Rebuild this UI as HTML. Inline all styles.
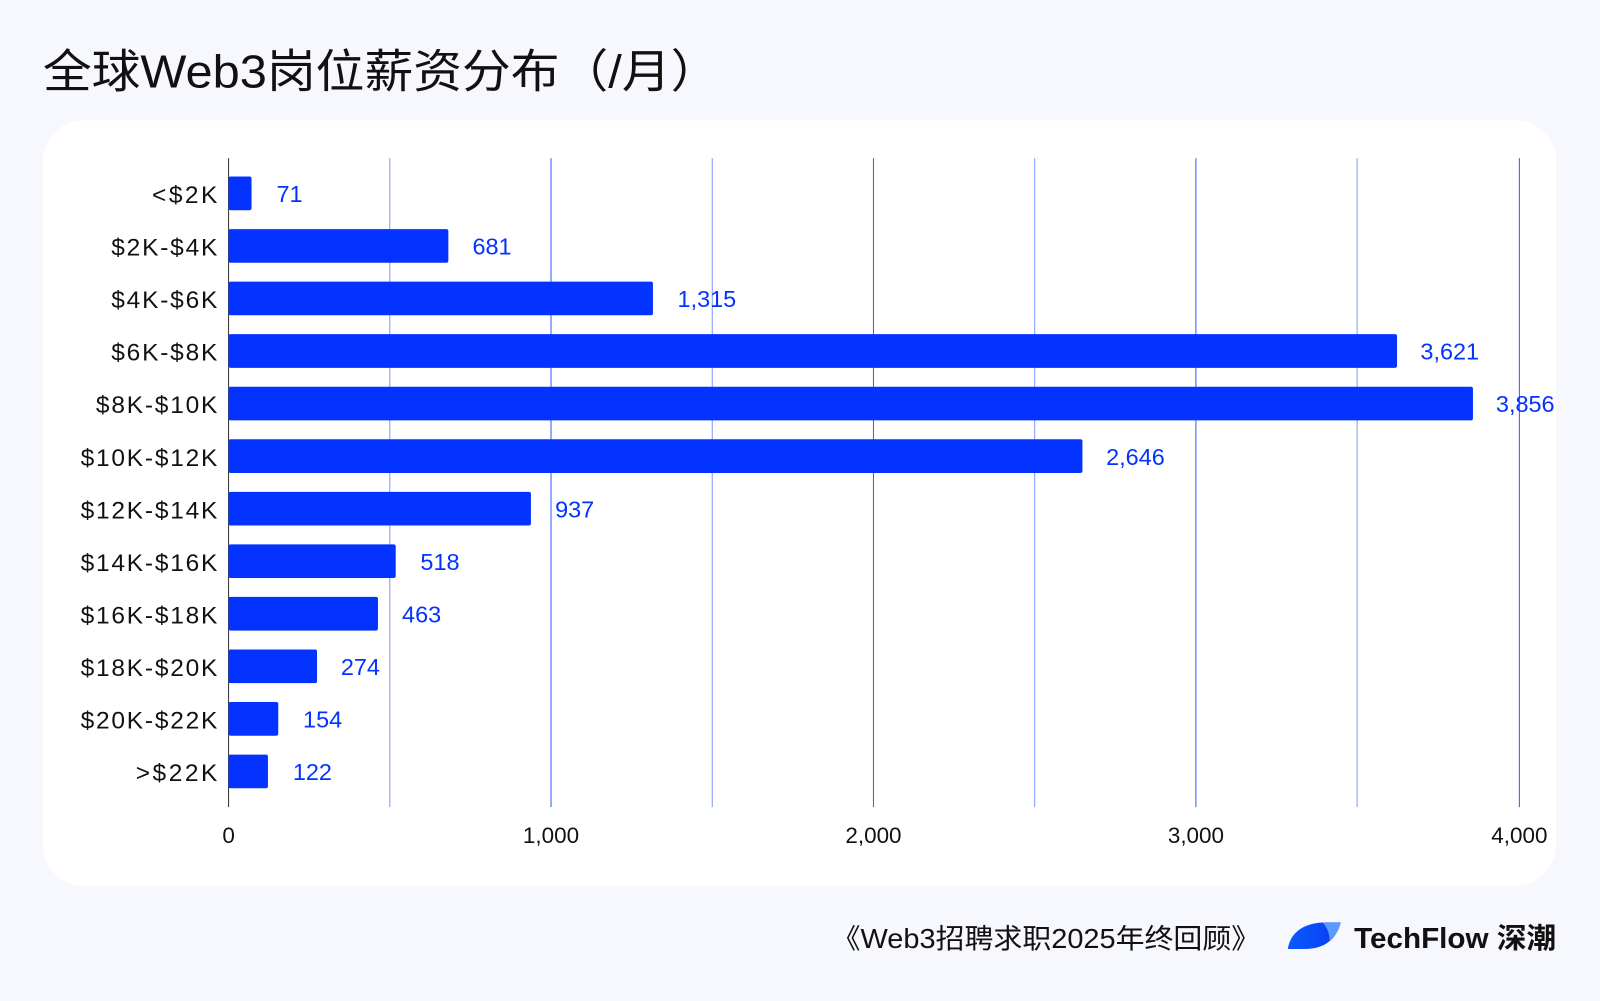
<!DOCTYPE html>
<html><head><meta charset="utf-8"><style>
html,body{margin:0;padding:0;background:#f7f8fd;}
svg{display:block}
</style></head><body>
<svg width="1600" height="1001" viewBox="0 0 1568 981" preserveAspectRatio="none" xmlns="http://www.w3.org/2000/svg">
<rect x="0" y="0" width="1568" height="981" fill="#f7f8fd"/>
<text x="42" y="86" font-family="Liberation Sans, Noto Sans CJK SC, sans-serif" font-size="45" fill="#111" textLength="663" lengthAdjust="spacingAndGlyphs">全球Web3岗位薪资分布（/月）</text>
<rect x="42" y="118" width="1483" height="750" rx="40" fill="#fff"/>
<g stroke="#0433ff" stroke-width="1">
<line x1="382" y1="155" x2="382" y2="791" stroke-opacity="0.5"/>
<line x1="540" y1="155" x2="540" y2="791" stroke-opacity="0.8"/>
<line x1="698" y1="155" x2="698" y2="791" stroke-opacity="0.5"/>
<line x1="856" y1="155" x2="856" y2="791" stroke-opacity="0.8"/>
<line x1="1014" y1="155" x2="1014" y2="791" stroke-opacity="0.5"/>
<line x1="1172" y1="155" x2="1172" y2="791" stroke-opacity="0.8"/>
<line x1="1330" y1="155" x2="1330" y2="791" stroke-opacity="0.5"/>
<line x1="1489" y1="155" x2="1489" y2="791" stroke-opacity="0.8"/>
</g>
<line x1="224" y1="155" x2="224" y2="791" stroke="#333" stroke-width="1"/>
<g fill="#0433ff">
<rect x="224" y="173" width="22.5" height="33" rx="2"/>
<rect x="224" y="224.5" width="215.4" height="33" rx="2"/>
<rect x="224" y="276" width="415.9" height="33" rx="2"/>
<rect x="224" y="327.5" width="1145.1" height="33" rx="2"/>
<rect x="224" y="379" width="1219.5" height="33" rx="2"/>
<rect x="224" y="430.5" width="836.8" height="33" rx="2"/>
<rect x="224" y="482" width="296.3" height="33" rx="2"/>
<rect x="224" y="533.5" width="163.8" height="33" rx="2"/>
<rect x="224" y="585" width="146.4" height="33" rx="2"/>
<rect x="224" y="636.5" width="86.7" height="33" rx="2"/>
<rect x="224" y="688" width="48.7" height="33" rx="2"/>
<rect x="224" y="739.5" width="38.6" height="33" rx="2"/>
</g>
<g font-family="Liberation Sans, sans-serif" font-size="24" fill="#111" text-anchor="end" lengthAdjust="spacingAndGlyphs">
<text x="213" y="199" textLength="64">&lt;$2K</text>
<text x="213" y="250.5" textLength="104">$2K-$4K</text>
<text x="213" y="302" textLength="104">$4K-$6K</text>
<text x="213" y="353.5" textLength="104">$6K-$8K</text>
<text x="213" y="405" textLength="119">$8K-$10K</text>
<text x="213" y="456.5" textLength="134">$10K-$12K</text>
<text x="213" y="508" textLength="134">$12K-$14K</text>
<text x="213" y="559.5" textLength="134">$14K-$16K</text>
<text x="213" y="611" textLength="134">$16K-$18K</text>
<text x="213" y="662.5" textLength="134">$18K-$20K</text>
<text x="213" y="714" textLength="134">$20K-$22K</text>
<text x="213" y="765.5" textLength="80">&gt;$22K</text>
</g>
<g font-family="Liberation Sans, sans-serif" font-size="23" fill="#0433ff">
<text x="271" y="198">71</text>
<text x="463" y="249.5">681</text>
<text x="664" y="301">1,315</text>
<text x="1392" y="352.5">3,621</text>
<text x="1466" y="404">3,856</text>
<text x="1084" y="455.5">2,646</text>
<text x="544" y="507">937</text>
<text x="412" y="558.5">518</text>
<text x="394" y="610">463</text>
<text x="334" y="661.5">274</text>
<text x="297" y="713">154</text>
<text x="287" y="764.5">122</text>
</g>
<g font-family="Liberation Sans, sans-serif" font-size="22" fill="#111" text-anchor="middle">
<text x="224" y="826">0</text>
<text x="540" y="826">1,000</text>
<text x="856" y="826">2,000</text>
<text x="1172" y="826">3,000</text>
<text x="1489" y="826">4,000</text>
</g>
<text x="815" y="929" font-family="Liberation Sans, Noto Sans CJK SC, sans-serif" font-size="27" fill="#111" textLength="420" lengthAdjust="spacingAndGlyphs">《Web3招聘求职2025年终回顾》</text>
<defs><linearGradient id="lg" x1="0" x2="1"><stop offset="0" stop-color="#0a5bff"/><stop offset="1" stop-color="#0a3cf0"/></linearGradient></defs>
<path d="M1262 930 C1265 912 1280 904 1300 904 L1314 904 C1310 920 1298 930 1280 930 Z" fill="url(#lg)"/>
<path d="M1296 904 L1314 904 C1312 912 1308 918 1303 922 C1303 914 1300 908 1296 904 Z" fill="#5b9bff"/>
<text x="1327" y="929" font-family="Liberation Sans, Noto Sans CJK SC, sans-serif" font-size="28" font-weight="bold" fill="#111" textLength="198" lengthAdjust="spacingAndGlyphs">TechFlow 深潮</text>
</svg>
</body></html>
